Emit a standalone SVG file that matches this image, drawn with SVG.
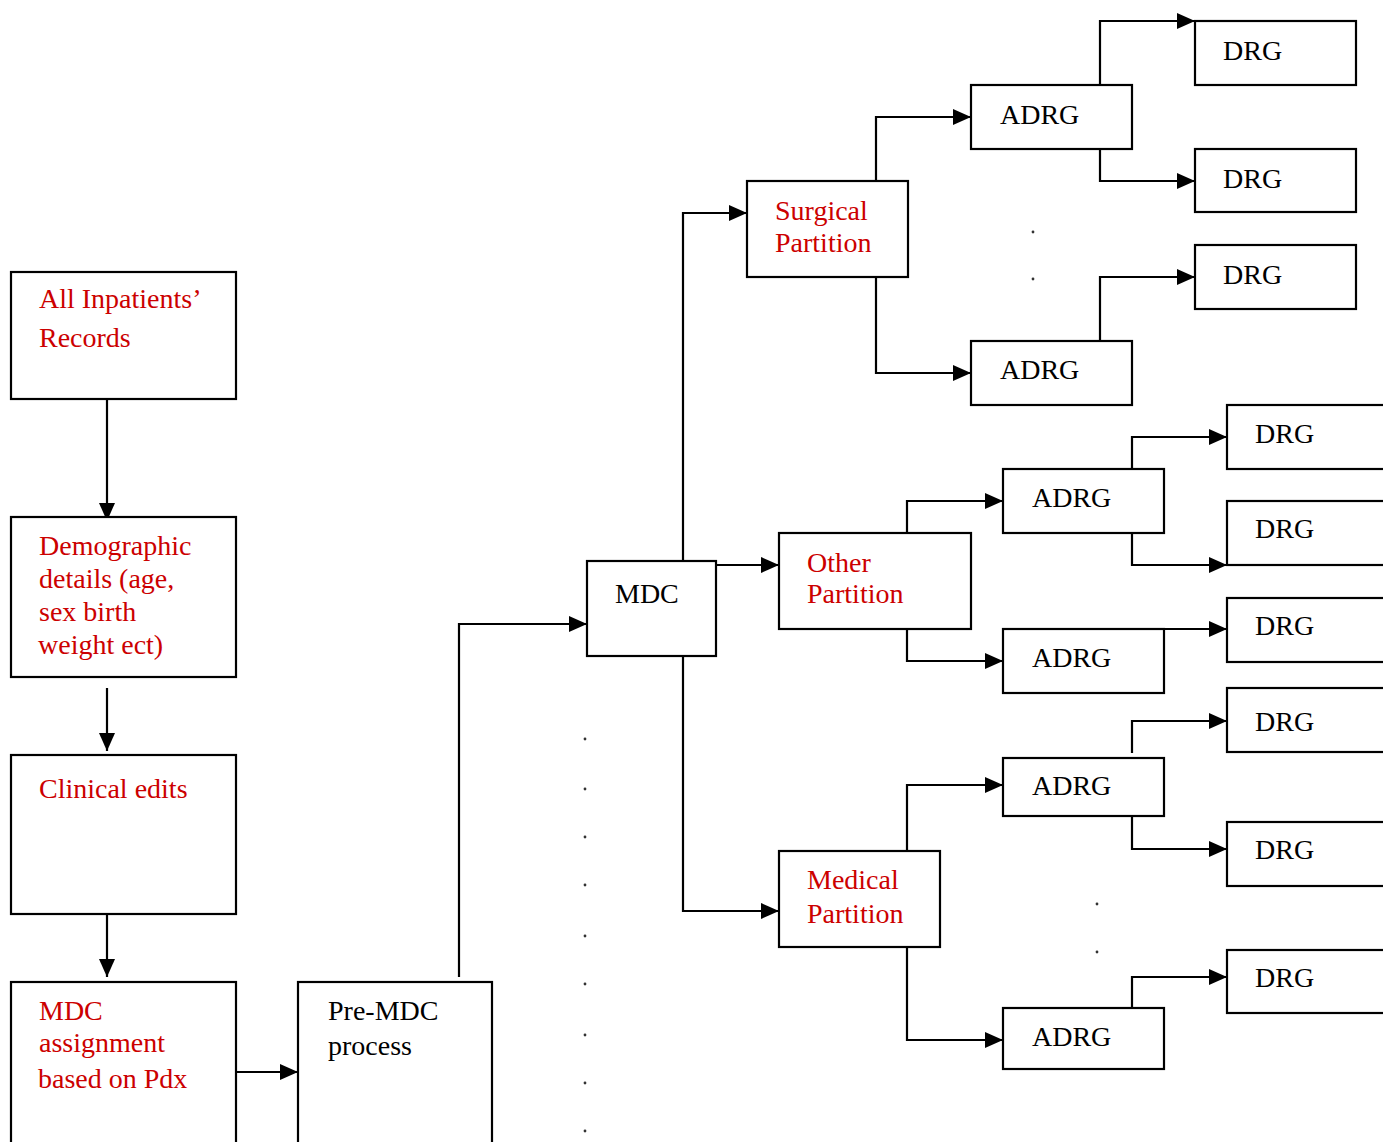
<svg xmlns="http://www.w3.org/2000/svg" width="1383" height="1142" viewBox="0 0 1383 1142">
<style>
rect{fill:#fff;stroke:#000;stroke-width:2.2}
text{font-family:"Liberation Serif","Times New Roman",serif;font-size:28px}
.r{fill:#cc0000}
.k{fill:#000}
#connectors path{fill:none;stroke:#000;stroke-width:2.2;marker-end:url(#ah)}
.dot{fill:#333}
</style>
<defs>
<marker id="ah" markerUnits="userSpaceOnUse" markerWidth="18" markerHeight="16" refX="18" refY="8" orient="auto">
<path d="M0,0 L18,8 L0,16 z" fill="#000"/>
</marker>
</defs>
<rect x="0" y="0" width="1383" height="1142" style="fill:#fff;stroke:none"/>
<g id="connectors">
<path d="M107,400 V521"/>
<path d="M107,688 V751"/>
<path d="M107,912 V977"/>
<path d="M236,1072 H298"/>
<path d="M459,977 V624 H587"/>
<path d="M683,560 V213 H747"/>
<path d="M716,565 H779"/>
<path d="M683,656 V911 H779"/>
<path d="M876,181 V117 H971"/>
<path d="M876,277 V373 H971"/>
<path d="M1100,84 V21 H1195"/>
<path d="M1100,149 V181 H1195"/>
<path d="M1100,341 V277 H1195"/>
<path d="M907,533 V501 H1003"/>
<path d="M907,629 V661 H1003"/>
<path d="M1132,469 V437 H1227"/>
<path d="M1132,533 V565 H1227"/>
<path d="M1164,629 H1227"/>
<path d="M907,851 V785 H1003"/>
<path d="M907,947 V1040 H1003"/>
<path d="M1132,753 V721 H1227"/>
<path d="M1132,817 V849 H1227"/>
<path d="M1132,1008 V977 H1227"/>
</g>
<g id="dots">
<circle class="dot" cx="585" cy="739" r="1.4"/>
<circle class="dot" cx="585" cy="789" r="1.4"/>
<circle class="dot" cx="585" cy="837" r="1.4"/>
<circle class="dot" cx="585" cy="885" r="1.4"/>
<circle class="dot" cx="585" cy="936" r="1.4"/>
<circle class="dot" cx="585" cy="984" r="1.4"/>
<circle class="dot" cx="585" cy="1035" r="1.4"/>
<circle class="dot" cx="585" cy="1083" r="1.4"/>
<circle class="dot" cx="585" cy="1131" r="1.4"/>
<circle class="dot" cx="1033" cy="232" r="1.4"/>
<circle class="dot" cx="1033" cy="279" r="1.4"/>
<circle class="dot" cx="1097" cy="904" r="1.4"/>
<circle class="dot" cx="1097" cy="952" r="1.4"/>
</g>
<g id="all-records"><rect x="11" y="272" width="225" height="127"/><text class="r" x="39" y="308">All Inpatients’</text><text class="r" x="39" y="347">Records</text></g>
<g id="demographic"><rect x="11" y="517" width="225" height="160"/><text class="r" x="39" y="555">Demographic</text><text class="r" x="39" y="588">details (age,</text><text class="r" x="39" y="621">sex birth</text><text class="r" x="38" y="654">weight ect)</text></g>
<g id="clinical"><rect x="11" y="755" width="225" height="159"/><text class="r" x="39" y="798">Clinical edits</text></g>
<g id="mdc-assignment"><rect x="11" y="982" width="225" height="170"/><text class="r" x="39" y="1020">MDC</text><text class="r" x="39" y="1052">assignment</text><text class="r" x="38" y="1088">based on Pdx</text></g>
<g id="pre-mdc"><rect x="298" y="982" width="194" height="170"/><text class="k" x="328" y="1020">Pre-MDC</text><text class="k" x="328" y="1055">process</text></g>
<g id="mdc"><rect x="587" y="561" width="129" height="95"/><text class="k" x="615" y="603">MDC</text></g>
<g id="surgical"><rect x="747" y="181" width="161" height="96"/><text class="r" x="775" y="220">Surgical</text><text class="r" x="775" y="252">Partition</text></g>
<g id="other"><rect x="779" y="533" width="192" height="96"/><text class="r" x="807" y="572">Other</text><text class="r" x="807" y="603">Partition</text></g>
<g id="medical"><rect x="779" y="851" width="161" height="96"/><text class="r" x="807" y="889">Medical</text><text class="r" x="807" y="923">Partition</text></g>
<g id="adrg1"><rect x="971" y="85" width="161" height="64"/><text class="k" x="1000" y="124">ADRG</text></g>
<g id="adrg2"><rect x="971" y="341" width="161" height="64"/><text class="k" x="1000" y="379">ADRG</text></g>
<g id="adrg3"><rect x="1003" y="469" width="161" height="64"/><text class="k" x="1032" y="507">ADRG</text></g>
<g id="adrg4"><rect x="1003" y="629" width="161" height="64"/><text class="k" x="1032" y="667">ADRG</text></g>
<g id="adrg5"><rect x="1003" y="758" width="161" height="58"/><text class="k" x="1032" y="795">ADRG</text></g>
<g id="adrg6"><rect x="1003" y="1008" width="161" height="61"/><text class="k" x="1032" y="1046">ADRG</text></g>
<g id="drg1"><rect x="1195" y="21" width="161" height="64"/><text class="k" x="1223" y="60">DRG</text></g>
<g id="drg2"><rect x="1195" y="149" width="161" height="63"/><text class="k" x="1223" y="188">DRG</text></g>
<g id="drg3"><rect x="1195" y="245" width="161" height="64"/><text class="k" x="1223" y="284">DRG</text></g>
<g id="drg4"><rect x="1227" y="405" width="170" height="64"/><text class="k" x="1255" y="443">DRG</text></g>
<g id="drg5"><rect x="1227" y="501" width="170" height="64"/><text class="k" x="1255" y="538">DRG</text></g>
<g id="drg6"><rect x="1227" y="598" width="170" height="64"/><text class="k" x="1255" y="635">DRG</text></g>
<g id="drg7"><rect x="1227" y="688" width="170" height="64"/><text class="k" x="1255" y="731">DRG</text></g>
<g id="drg8"><rect x="1227" y="822" width="170" height="64"/><text class="k" x="1255" y="859">DRG</text></g>
<g id="drg9"><rect x="1227" y="950" width="170" height="63"/><text class="k" x="1255" y="987">DRG</text></g>
</svg>
